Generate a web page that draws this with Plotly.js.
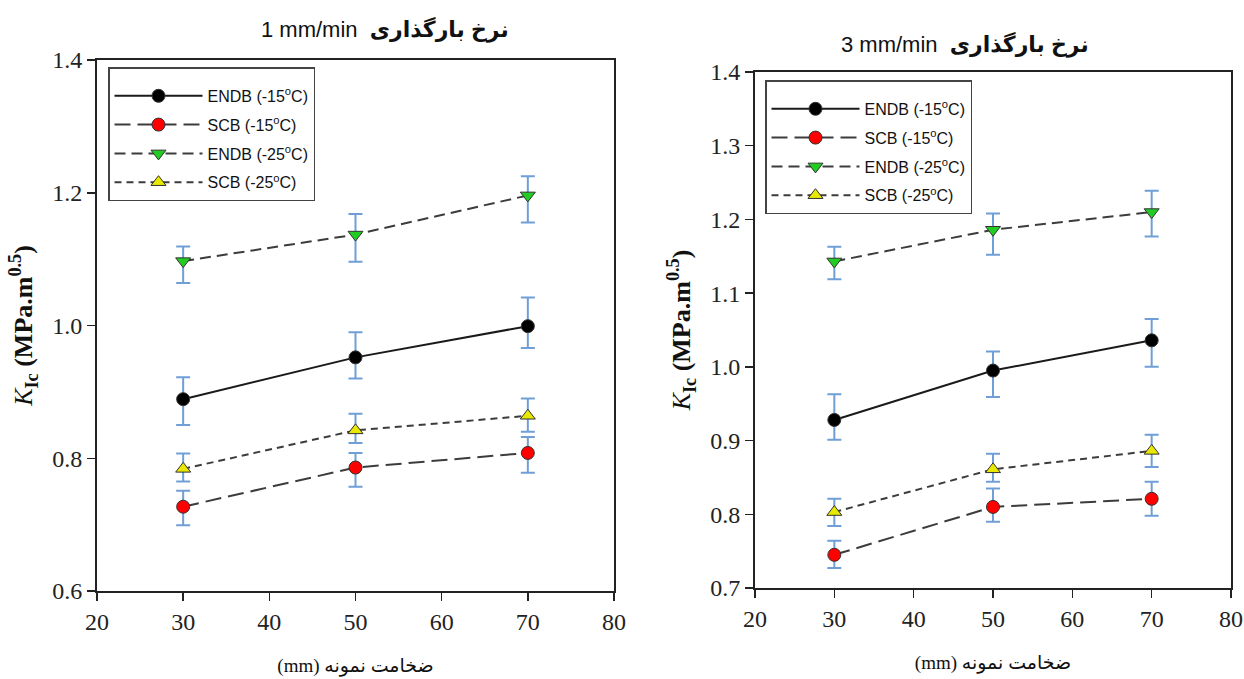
<!DOCTYPE html>
<html>
<head>
<meta charset="utf-8">
<script src="https://cdn.plot.ly/plotly-3.0.1.min.js"></script>
<style>html,body{margin:0;padding:0;background:#fff;}#chart{width:1244px;height:679px;}</style>
</head>
<body>
<div id="chart"></div>
<script>
// ---- data ----
const thickness = [30, 50, 70];
const seriesNames = ['ENDB (-15<sup>o</sup>C)', 'SCB (-15<sup>o</sup>C)', 'ENDB (-25<sup>o</sup>C)', 'SCB (-25<sup>o</sup>C)'];

// loading rate 1 mm/min
const endb15_r1 = [0.889, 0.952, 0.999];
const endb15_r1_plus = [0.033, 0.038, 0.043];
const endb15_r1_minus = [0.039, 0.032, 0.033];
const scb15_r1 = [0.727, 0.786, 0.808];
const scb15_r1_plus = [0.024, 0.022, 0.024];
const scb15_r1_minus = [0.028, 0.029, 0.030];
const endb25_r1 = [1.097, 1.137, 1.196];
const endb25_r1_plus = [0.022, 0.031, 0.029];
const endb25_r1_minus = [0.033, 0.041, 0.041];
const scb25_r1 = [0.784, 0.842, 0.864];
const scb25_r1_plus = [0.023, 0.025, 0.026];
const scb25_r1_minus = [0.019, 0.019, 0.024];

// loading rate 3 mm/min
const endb15_r3 = [0.928, 0.995, 1.036];
const endb15_r3_plus = [0.035, 0.026, 0.029];
const endb15_r3_minus = [0.027, 0.036, 0.036];
const scb15_r3 = [0.745, 0.810, 0.821];
const scb15_r3_plus = [0.019, 0.025, 0.023];
const scb15_r3_minus = [0.018, 0.020, 0.023];
const endb25_r3 = [1.143, 1.186, 1.210];
const endb25_r3_plus = [0.020, 0.022, 0.029];
const endb25_r3_minus = [0.024, 0.034, 0.033];
const scb25_r3 = [0.803, 0.861, 0.886];
const scb25_r3_plus = [0.018, 0.021, 0.022];
const scb25_r3_minus = [0.019, 0.017, 0.022];

const titleLeft = '1 mm/min  <b>نرخ بارگذاری</b>';
const titleRight = '3 mm/min  <b>نرخ بارگذاری</b>';
const xTitle = '(mm) ضخامت نمونه';
const yTitle = '<i>K</i><sub><b>Ic</b></sub><b> (MPa.m<sup>0.5</sup>)</b>';

// ---- styles ----
const styles = [
  {line: {color: '#1a1a1a', width: 2, dash: 'solid'}, marker: {symbol: 'circle', color: '#000000', size: 13, line: {color: '#333', width: 1}}},
  {line: {color: '#3c3c3c', width: 2, dash: '16px,7px'}, marker: {symbol: 'circle', color: '#ff0000', size: 13, line: {color: '#333', width: 1}}},
  {line: {color: '#3c3c3c', width: 2, dash: '11px,6px'}, marker: {symbol: 'triangle-down', color: '#22cc22', size: 13, line: {color: '#333', width: 1}}},
  {line: {color: '#3c3c3c', width: 2, dash: '7px,5px'}, marker: {symbol: 'triangle-up', color: '#e8e800', size: 13, line: {color: '#333', width: 1}}}
];
const errColor = '#6f9fd6';

function mk(i, y, plus, minus, xa, ya, leg) {
  return {
    x: thickness, y: y, type: 'scatter', mode: 'lines+markers',
    name: seriesNames[i], xaxis: xa, yaxis: ya, legend: leg, legendgroup: leg + '_' + i,
    line: styles[i].line, marker: styles[i].marker,
    error_y: {type: 'data', symmetric: false, array: plus, arrayminus: minus, color: errColor, thickness: 2, width: 7}
  };
}

const data = [
  mk(0, endb15_r1, endb15_r1_plus, endb15_r1_minus, 'x', 'y', 'legend'),
  mk(1, scb15_r1, scb15_r1_plus, scb15_r1_minus, 'x', 'y', 'legend'),
  mk(2, endb25_r1, endb25_r1_plus, endb25_r1_minus, 'x', 'y', 'legend'),
  mk(3, scb25_r1, scb25_r1_plus, scb25_r1_minus, 'x', 'y', 'legend'),
  mk(0, endb15_r3, endb15_r3_plus, endb15_r3_minus, 'x2', 'y2', 'legend2'),
  mk(1, scb15_r3, scb15_r3_plus, scb15_r3_minus, 'x2', 'y2', 'legend2'),
  mk(2, endb25_r3, endb25_r3_plus, endb25_r3_minus, 'x2', 'y2', 'legend2'),
  mk(3, scb25_r3, scb25_r3_plus, scb25_r3_minus, 'x2', 'y2', 'legend2')
];

const serif = 'Liberation Serif, Times New Roman, serif';
const axBase = {
  showgrid: false, zeroline: false, showline: true, linecolor: '#222', linewidth: 2,
  mirror: true, ticks: 'outside', ticklen: 8, tickwidth: 1.5, tickcolor: '#222',
  tickfont: {family: serif, size: 24, color: '#222'}
};
const xTitleObj = {text: xTitle, font: {family: 'Liberation Serif, DejaVu Sans', size: 19, color: '#111'}, standoff: 25};
const yTitleObj = {text: yTitle, font: {family: serif, size: 26, color: '#111'}, standoff: 12};
const legBase = {
  bgcolor: 'rgba(255,255,255,1)', bordercolor: '#444', borderwidth: 1.5,
  font: {family: 'Liberation Sans, Arial, sans-serif', size: 16, color: '#111'},
  title: {text: ' ', font: {size: 8}},
  xanchor: 'left', yanchor: 'top', itemwidth: 88, tracegroupgap: 5
};

const layout = {
  width: 1244, height: 679,
  margin: {l: 0, r: 0, t: 0, b: 0},
  font: {family: serif, color: '#222'},
  paper_bgcolor: '#fff', plot_bgcolor: '#fff',
  showlegend: true,
  xaxis: Object.assign({}, axBase, {domain: [97/1244, 614/1244], range: [20, 80], dtick: 10, tick0: 20, anchor: 'y', title: xTitleObj}),
  yaxis: Object.assign({}, axBase, {domain: [1 - 591/679, 1 - 60/679], range: [0.6, 1.4], dtick: 0.2, tick0: 0.6, tickformat: '.1f', anchor: 'x', title: yTitleObj}),
  xaxis2: Object.assign({}, axBase, {domain: [755/1244, 1231/1244], range: [20, 80], dtick: 10, tick0: 20, anchor: 'y2', title: xTitleObj}),
  yaxis2: Object.assign({}, axBase, {domain: [1 - 588/679, 1 - 72/679], range: [0.7, 1.4], dtick: 0.1, tick0: 0.7, tickformat: '.1f', anchor: 'x2', title: yTitleObj}),
  legend: Object.assign({}, legBase, {x: 108/1244, y: 1 - 67/679}),
  legend2: Object.assign({}, legBase, {x: 765/1244, y: 1 - 80/679}),
  annotations: [
    {text: titleLeft, xref: 'paper', yref: 'paper', x: 385/1244, y: 1 - 30/679, showarrow: false, xanchor: 'center', yanchor: 'middle',
     font: {family: 'Liberation Sans, DejaVu Sans, sans-serif', size: 22, color: '#111'}},
    {text: titleRight, xref: 'paper', yref: 'paper', x: 965/1244, y: 1 - 45/679, showarrow: false, xanchor: 'center', yanchor: 'middle',
     font: {family: 'Liberation Sans, DejaVu Sans, sans-serif', size: 22, color: '#111'}}
  ]
};

Plotly.newPlot('chart', data, layout, {staticPlot: true, displayModeBar: false});
</script>
</body>
</html>
